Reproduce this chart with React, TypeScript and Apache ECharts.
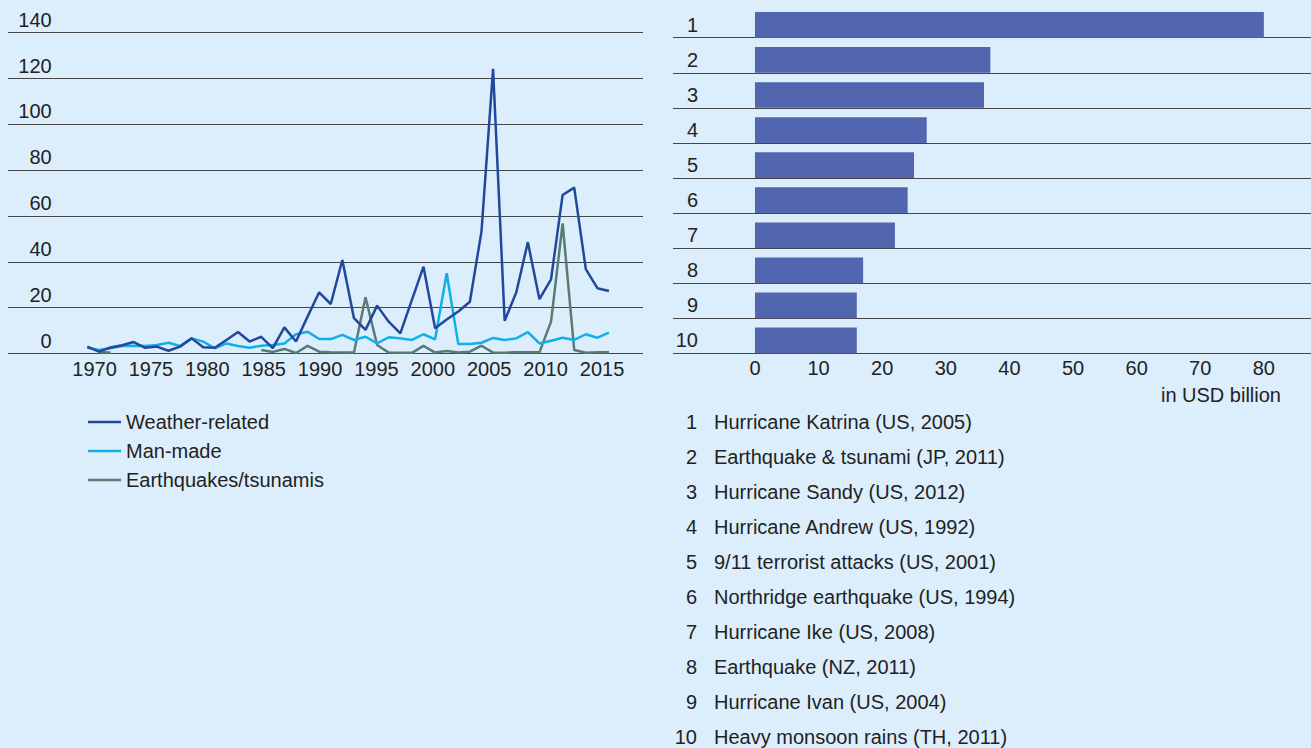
import React, { useEffect, useRef } from 'react';
import * as echarts from 'echarts';

// Insured catastrophe losses by year, USD billion
const years = [
  1970, 1971, 1972, 1973, 1974, 1975, 1976, 1977, 1978, 1979,
  1980, 1981, 1982, 1983, 1984, 1985, 1986, 1987, 1988, 1989,
  1990, 1991, 1992, 1993, 1994, 1995, 1996, 1997, 1998, 1999,
  2000, 2001, 2002, 2003, 2004, 2005, 2006, 2007, 2008, 2009,
  2010, 2011, 2012, 2013, 2014, 2015,
];
const weatherRelated = [
  3.0, 0.8, 2.6, 3.6, 5.0, 2.5, 3.0, 1.2, 3.0, 6.6,
  2.7, 2.5, 5.9, 9.4, 5.2, 7.3, 2.3, 11.4, 5.2, 16.1,
  26.7, 21.6, 40.8, 15.4, 10.3, 20.9, 13.9, 8.8, 23.4, 37.9,
  11.0, 14.8, 18.3, 22.6, 53.2, 124.2, 14.3, 26.6, 48.6, 23.7,
  32.4, 69.2, 72.4, 36.8, 28.5, 27.3,
];
const manMade = [
  2.5, 1.5, 2.3, 3.3, 3.4, 3.3, 3.7, 4.7, 3.3, 6.6,
  5.2, 2.3, 4.4, 3.3, 2.5, 3.4, 3.7, 4.4, 8.4, 9.5,
  6.3, 6.3, 8.1, 5.9, 7.3, 4.4, 7.1, 6.6, 5.9, 8.4,
  6.2, 35.0, 4.1, 4.1, 4.7, 6.8, 5.9, 6.6, 9.3, 4.4,
  5.6, 6.9, 5.9, 8.4, 6.9, 9.1,
];
const earthquakes = [
  null, 0.5, 0.4, null, null, null, null, null, null, null,
  null, null, null, null, null, 1.5, 0.7, 2.0, 0.2, 3.3,
  0.8, 0.5, 0.4, 0.4, 24.5, 3.7, 0.4, 0.3, 0.3, 3.3,
  0.4, 1.1, 0.4, 0.8, 3.4, 0.4, 0.3, 0.6, 0.6, 0.5,
  13.9, 56.8, 1.5, 0.3, 0.5, 0.5,
];
const yearTicks = [1970, 1975, 1980, 1985, 1990, 1995, 2000, 2005, 2010, 2015];
const seriesNames = ['Weather-related', 'Man-made', 'Earthquakes/tsunamis'];
const seriesColors = ['#21489c', '#0fb0ea', '#5a7b72'];

// Ten costliest insured losses, USD billion
const rankLabels = ['1', '2', '3', '4', '5', '6', '7', '8', '9', '10'];
const eventLosses = [80, 37, 36, 27, 25, 24, 22, 17, 16, 16];
const eventNames = [
  'Hurricane Katrina (US, 2005)',
  'Earthquake & tsunami (JP, 2011)',
  'Hurricane Sandy (US, 2012)',
  'Hurricane Andrew (US, 1992)',
  '9/11 terrorist attacks (US, 2001)',
  'Northridge earthquake (US, 1994)',
  'Hurricane Ike (US, 2008)',
  'Earthquake (NZ, 2011)',
  'Hurricane Ivan (US, 2004)',
  'Heavy monsoon rains (TH, 2011)',
];

const FONT = '"Liberation Sans", Arial, Helvetica, sans-serif';
const TEXT = '#222222';
const RULE = '#454545';
const BG = '#dceefc';

export default function App() {
  const ref = useRef<HTMLDivElement>(null);

  useEffect(() => {
    document.body.style.margin = '0';
    if (!ref.current) return;
    const chart = echarts.init(ref.current, undefined, { renderer: 'svg' });

    const toPairs = (vals: (number | null)[]) => years.map((y, i) => [y, vals[i]]);
    const lineSeries = [weatherRelated, manMade, earthquakes].map((vals, i) => ({
      name: seriesNames[i],
      type: 'line',
      xAxisIndex: 1,
      yAxisIndex: 1,
      data: toPairs(vals),
      symbol: 'none',
      connectNulls: false,
      color: seriesColors[i],
      lineStyle: { width: 2.5, color: seriesColors[i] },
      z: 3 + (2 - i),
    }));

    const legendList: any[] = [];
    eventNames.forEach((name, i) => {
      legendList.push({
        type: 'text',
        x: 697,
        y: 422 + i * 35,
        style: { text: rankLabels[i], font: `20px ${FONT}`, fill: TEXT, align: 'right', verticalAlign: 'middle' },
      });
      legendList.push({
        type: 'text',
        x: 714,
        y: 422 + i * 35,
        style: { text: name, font: `20px ${FONT}`, fill: TEXT, align: 'left', verticalAlign: 'middle' },
      });
    });

    chart.setOption({
      animation: false,
      backgroundColor: BG,
      textStyle: { fontFamily: FONT, color: TEXT },
      grid: [
        // left: horizontal rules
        { left: 8, top: 32.7, width: 635, height: 320.8 },
        // left: data area
        { left: 87.3, top: 32.7, width: 521.7, height: 320.8 },
        // right: row separators
        { left: 673, right: 0, top: 37.7, height: 315.6 },
        // right: bars
        { left: 755, right: 0, top: 7.3, height: 350.7 },
      ],
      xAxis: [
        { type: 'value', gridIndex: 0, show: false, min: 0, max: 1 },
        { type: 'value', gridIndex: 1, show: false, min: 1970, max: 2015 },
        {
          type: 'value',
          gridIndex: 1,
          min: 1969.36,
          max: 2015.62,
          position: 'bottom',
          axisLine: { show: false },
          axisTick: { show: false },
          splitLine: { show: false },
          axisLabel: {
            customValues: yearTicks,
            fontSize: 20,
            color: TEXT,
            fontFamily: FONT,
            margin: 5,
            formatter: (v: number) => String(Math.round(v)),
          },
        },
        { type: 'value', gridIndex: 2, show: false, min: 0, max: 1 },
        {
          type: 'value',
          gridIndex: 3,
          min: 0,
          max: 86.94,
          interval: 10,
          axisLine: { show: false },
          axisTick: { show: false },
          splitLine: { show: false },
          axisLabel: {
            fontSize: 20,
            color: TEXT,
            fontFamily: FONT,
            margin: 0,
            formatter: (v: number) => (v % 10 === 0 ? String(v) : ''),
          },
        },
      ],
      yAxis: [
        {
          type: 'value',
          gridIndex: 0,
          min: 0,
          max: 140,
          interval: 20,
          axisLine: { show: false },
          axisTick: { show: false },
          splitLine: { show: true, lineStyle: { color: RULE, width: 1 } },
          axisLabel: {
            inside: true,
            align: 'right',
            verticalAlign: 'bottom',
            margin: 43.7,
            padding: [0, 0, 3, 0],
            fontSize: 20,
            color: TEXT,
            fontFamily: FONT,
          },
        },
        { type: 'value', gridIndex: 1, show: false, min: 0, max: 140 },
        {
          type: 'value',
          gridIndex: 2,
          min: 0,
          max: 9,
          interval: 1,
          axisLine: { show: false },
          axisTick: { show: false },
          axisLabel: { show: false },
          splitLine: { show: true, lineStyle: { color: RULE, width: 1 } },
        },
        {
          type: 'category',
          gridIndex: 3,
          data: rankLabels,
          inverse: true,
          axisLine: { show: false },
          axisTick: { show: false },
          splitLine: { show: false },
          axisLabel: {
            margin: 57,
            align: 'right',
            fontSize: 20,
            color: TEXT,
            fontFamily: FONT,
          },
        },
      ],
      legend: {
        data: seriesNames,
        orient: 'vertical',
        left: 88,
        top: 412,
        padding: 0,
        icon: 'path://M0,0h33v2.5h-33z',
        itemWidth: 33,
        itemHeight: 20,
        itemGap: 9,
        textStyle: { fontSize: 20, color: TEXT, fontFamily: FONT },
      },
      series: [
        ...lineSeries,
        {
          name: 'Insured loss',
          type: 'bar',
          xAxisIndex: 4,
          yAxisIndex: 3,
          data: eventLosses,
          barWidth: 25.7,
          itemStyle: { color: '#5166ae' },
        },
      ],
      graphic: [
        ...legendList,
        {
          type: 'text',
          x: 1281,
          y: 395,
          style: { text: 'in USD billion', font: `20px ${FONT}`, fill: TEXT, align: 'right', verticalAlign: 'middle' },
        },
      ],
    });

    return () => chart.dispose();
  }, []);

  return <div ref={ref} style={{ width: 1311, height: 748, background: BG }} />;
}
